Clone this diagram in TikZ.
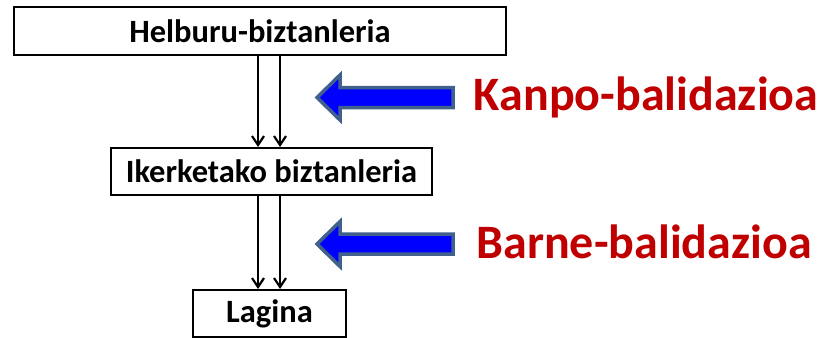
\documentclass[tikz,border=0pt]{standalone}
\usepackage{fontspec}
\setmainfont{Carlito}
\usetikzlibrary{arrows.meta}
\definecolor{validred}{HTML}{C00000}
\definecolor{arrowedge}{HTML}{41618C}
\begin{document}
\begin{tikzpicture}[x=1pt,y=-1pt,
  box/.style={draw=black,line width=2pt,inner sep=0pt,font=\fontsize{32.5}{36}\selectfont\bfseries},
  flow/.style={line width=2.2pt,-{Straight Barb[length=9pt,width=12pt,line width=2.2pt]}},
  bigarrow/.style={draw=arrowedge,line width=3.5pt,fill=blue,line join=miter},
  label/.style={text=validred,font=\fontsize{48}{54}\selectfont\bfseries,inner sep=0pt}]
  \useasboundingbox (0,0) rectangle (821,337);
  % population boxes
  \node[box,minimum width=492pt,minimum height=48pt] (target) at (260,31) {Helburu-biztanleria};
  \node[box,minimum width=321pt,minimum height=47pt] (study) at (271.5,171.5) {Ikerketako biztanleria};
  \node[box,minimum width=153pt,minimum height=47pt] (sample) at (269.5,313.5) {Lagina};
  % paired flow lines
  \coordinate (la) at (258,0);
  \coordinate (lb) at (280,0);
  \draw[flow] (target.south -| la) -- (study.north -| la);
  \draw[flow] (target.south -| lb) -- (study.north -| lb);
  \draw[flow] (study.south -| la) -- (sample.north -| la);
  \draw[flow] (study.south -| lb) -- (sample.north -| lb);
  % block arrows
  \draw[bigarrow] (317,97.5) -- (340,75) -- (340,87.5) -- (453,87.5) -- (453,107.5) -- (340,107.5) -- (340,120) -- cycle;
  \draw[bigarrow] (317,244) -- (340,221.5) -- (340,234) -- (453,234) -- (453,254) -- (340,254) -- (340,266.5) -- cycle;
  % validity labels
  \node[label] (ext) at (646,97) {Kanpo-balidazioa};
  \node[label] (int) at (644,242) {Barne-balidazioa};
\end{tikzpicture}
\end{document}
